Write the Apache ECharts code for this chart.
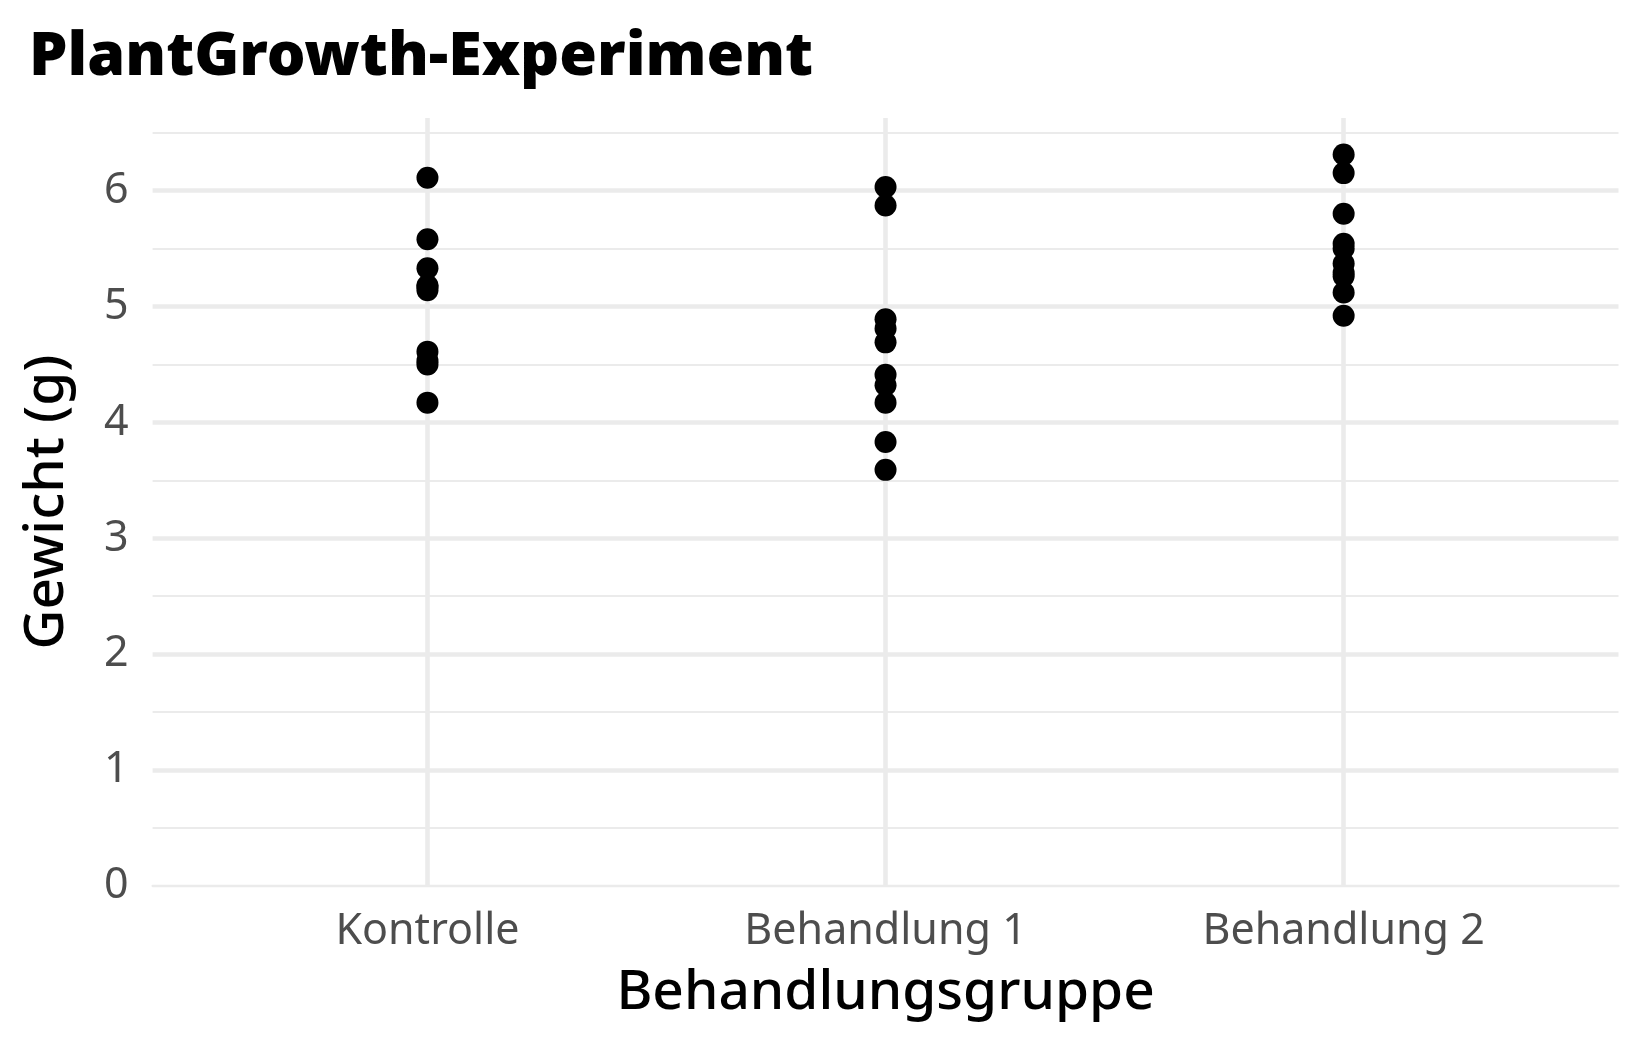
<!DOCTYPE html>
<html>
<head>
<meta charset="utf-8">
<script src="https://cdn.jsdelivr.net/npm/echarts@6/dist/echarts.min.js"></script>
<style>
html,body{margin:0;padding:0;background:#fff;}
#chart{width:1650px;height:1050px;}
</style>
</head>
<body>
<div id="chart"></div>
<script>
const categories = ['Kontrolle', 'Behandlung 1', 'Behandlung 2'];
const ctrlValues = [4.17, 5.58, 5.18, 6.11, 4.50, 4.61, 5.17, 4.53, 5.33, 5.14];
const trt1Values = [4.81, 4.17, 4.41, 3.59, 5.87, 3.83, 6.03, 4.89, 4.32, 4.69];
const trt2Values = [6.31, 5.12, 5.54, 5.50, 5.37, 5.29, 4.92, 6.15, 5.80, 5.26];
const yTicks = [0, 1, 2, 3, 4, 5, 6];

const groups = [ctrlValues, trt1Values, trt2Values];
const points = [];
groups.forEach((vals, gi) => vals.forEach(v => points.push([gi + 1, v])));

const allVals = [].concat(ctrlValues, trt1Values, trt2Values);
const yMax = Math.max.apply(null, allVals) * 1.05;

const FONT = 'Noto Sans';
const grid = '#ebebeb';

const chart = echarts.init(document.getElementById('chart'), null, {renderer: 'canvas'});
chart.setOption({
  backgroundColor: '#ffffff',
  animation: false,
  title: {
    text: 'PlantGrowth-Experiment',
    left: 24, top: 22,
    textStyle: {fontFamily: FONT, fontWeight: 900, fontSize: 61, color: '#000'}
  },
  grid: {left: 152.6, right: 31.5, top: 118, bottom: 164, containLabel: false},
  xAxis: {
    type: 'value', min: 0.4, max: 3.6, splitNumber: 3,
    axisLine: {show: true, lineStyle: {color: grid, width: 2.3}},
    axisTick: {show: false},
    splitLine: {show: true, showMinLine: false, showMaxLine: false, lineStyle: {color: grid, width: 4.6}},
    axisLabel: {
      show: true, margin: 24, color: '#4d4d4d', fontFamily: FONT, fontSize: 43,
      showMinLabel: false, showMaxLabel: false,
      formatter: v => (Math.abs(v - Math.round(v)) < 1e-9 && v >= 1 && v <= categories.length) ? categories[Math.round(v) - 1] : ''
    },
    name: 'Behandlungsgruppe', nameLocation: 'middle', nameGap: 80,
    nameTextStyle: {fontFamily: FONT, fontSize: 55, fontWeight: 500, color: '#000'}
  },
  yAxis: {
    type: 'value', min: 0, max: yMax, interval: 1,
    axisLine: {show: false}, axisTick: {show: false},
    splitLine: {show: true, showMinLine: false, showMaxLine: false, lineStyle: {color: grid, width: 4.6}},
    minorTick: {show: false, splitNumber: 2},
    minorSplitLine: {show: true, lineStyle: {color: grid, width: 2}},
    axisLabel: {
      show: true, margin: 24, color: '#4d4d4d', fontFamily: FONT, fontSize: 43,
      showMaxLabel: false,
      formatter: v => yTicks.indexOf(v) >= 0 ? String(v) : ''
    },
    name: 'Gewicht (g)', nameLocation: 'middle', nameGap: 78, nameRotate: 90,
    nameTextStyle: {fontFamily: FONT, fontSize: 55, fontWeight: 500, color: '#000'}
  },
  series: [{
    type: 'scatter',
    data: points,
    symbol: 'circle',
    symbolSize: 22,
    itemStyle: {color: '#000', opacity: 1},
    z: 5
  }]
});
</script>
</body>
</html>
